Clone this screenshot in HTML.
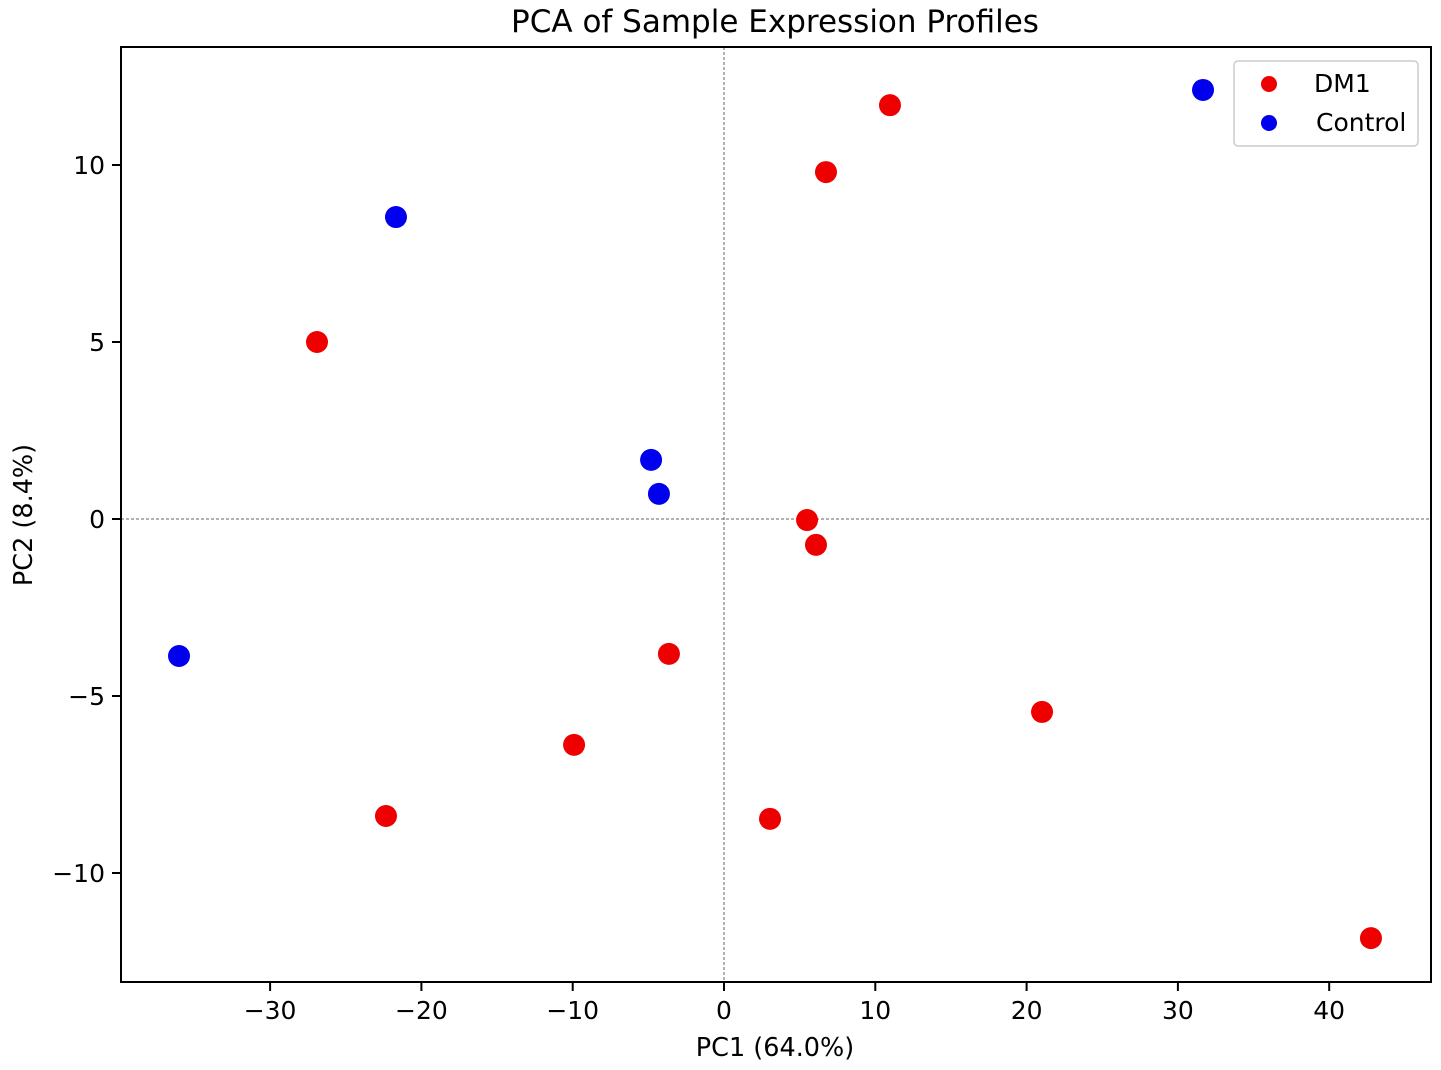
<!DOCTYPE html>
<html><head><meta charset="utf-8"><style>
html,body{margin:0;padding:0;background:#fff;}
svg{display:block;font-family:"DejaVu Sans","Liberation Sans",sans-serif;}
</style></head><body>
<svg id="chart" width="1441" height="1070" viewBox="0 0 1441 1070">
<text x="775" y="32" font-size="31" text-anchor="middle" fill="#000">PCA of Sample Expression Profiles</text>
<g id="plot"></g>
<text x="775" y="1056" font-size="25.5" text-anchor="middle">PC1 (64.0%)</text>
<text transform="translate(32,515) rotate(-90)" font-size="25.5" text-anchor="middle">PC2 (8.4%)</text>
</svg>
<script>
const xTicks=[-30,-20,-10,0,10,20,30,40];
const yTicks=[-10,-5,0,5,10];
const dm1X=[10.97,6.74,-26.9,5.49,6.08,-3.64,-9.91,-22.34,3.04,21.02,42.76];
const dm1Y=[11.69,9.8,5.0,-0.03,-0.73,-3.81,-6.38,-8.39,-8.47,-5.45,-11.84];
const ctrlX=[31.66,-21.68,-4.82,-4.3,-36.02];
const ctrlY=[12.12,8.53,1.67,0.71,-3.87];
const L=121,R=1431,T=47,B=982;
const sx=v=>724+v*15.13;
const sy=v=>519-v*35.4;
const NS="http://www.w3.org/2000/svg";
const g=document.getElementById('plot');
function mk(t,a){const e=document.createElementNS(NS,t);for(const k in a)e.setAttribute(k,a[k]);g.appendChild(e);return e;}
let e;
e=mk('line',{x1:sx(0),x2:sx(0),y1:T,y2:B,stroke:'#666','stroke-width':1,'stroke-dasharray':'3,2'});


e=mk('line',{x1:L,x2:R,y1:sy(0),y2:sy(0),stroke:'#666','stroke-width':1,'stroke-dasharray':'3,2'});


xTicks.forEach(v=>{
 e=mk('line',{x1:sx(v),x2:sx(v),y1:B,y2:B+9,stroke:'#000','stroke-width':2});
 
 
 e=mk('text',{x:sx(v),y:B+37,'font-size':25,'text-anchor':'middle'});
 e.textContent=v<0?'\u2212'+(-v):String(v);
 
 
});
yTicks.forEach(v=>{
 e=mk('line',{x1:L-9,x2:L,y1:sy(v),y2:sy(v),stroke:'#000','stroke-width':2});
 
 
 e=mk('text',{x:L-16,y:sy(v)+9,'font-size':25,'text-anchor':'end'});
 e.textContent=v<0?'\u2212'+(-v):String(v);
 
 
});
dm1X.forEach((x,i)=>{
 e=mk('circle',{cx:sx(x),cy:sy(dm1Y[i]),r:11,fill:'#ee0000'});
 
 
});
ctrlX.forEach((x,i)=>{
 e=mk('circle',{cx:sx(x),cy:sy(ctrlY[i]),r:11,fill:'#0000ee'});
 
 
});
e=mk('rect',{x:L,y:T,width:R-L,height:B-T,fill:'none',stroke:'#000','stroke-width':2});


e=mk('rect',{x:1234,y:61,width:184,height:85,rx:4,fill:'#fff',stroke:'#ccc','stroke-width':1.5});


e=mk('circle',{cx:1269,cy:84,r:8,fill:'#ee0000'});


e=mk('text',{x:1314,y:92,'font-size':25});e.textContent='DM1';


e=mk('circle',{cx:1269,cy:123,r:8,fill:'#0000ee'});


e=mk('text',{x:1316,y:131,'font-size':25});e.textContent='Control';


</script>
</body></html>
